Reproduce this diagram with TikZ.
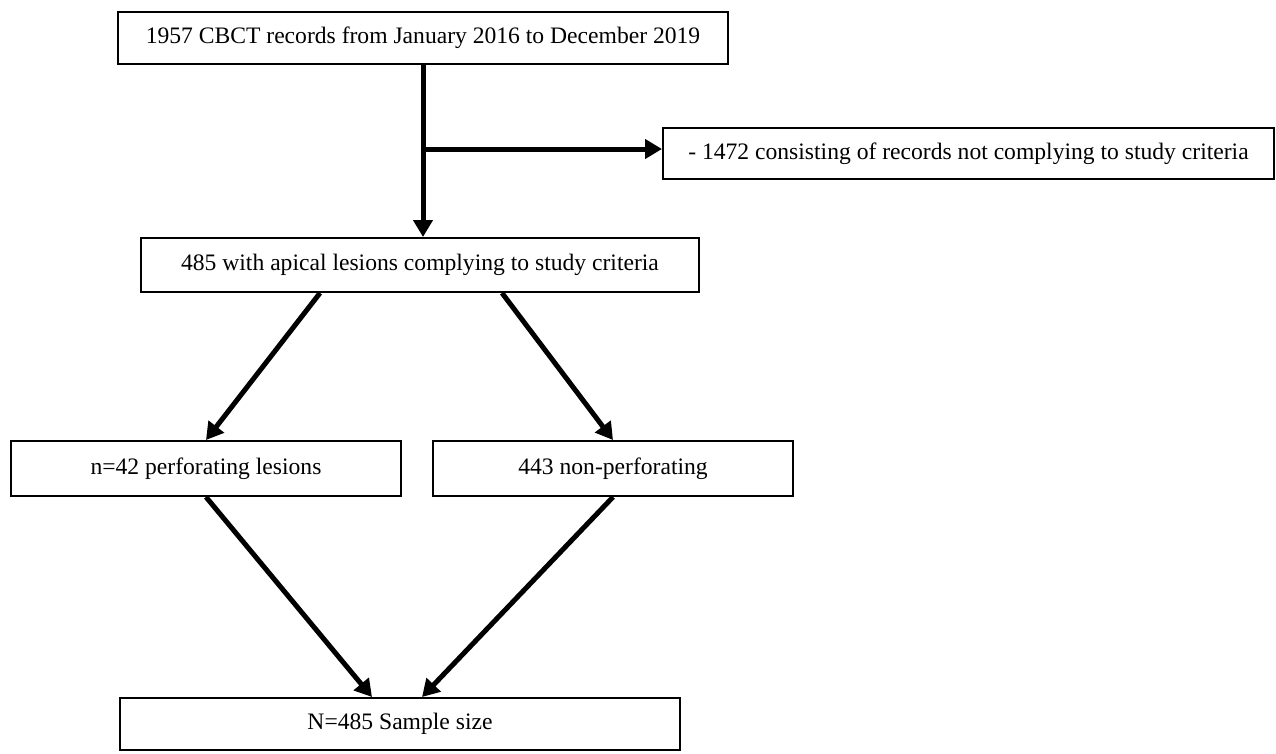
\documentclass[tikz,border=0pt]{standalone}
\usepackage{fontspec}
\setmainfont{Liberation Serif}
\usetikzlibrary{arrows.meta,calc}
\begin{document}
\begin{tikzpicture}[x=1pt,y=-1pt,
  box/.style={draw=black,line width=2pt,fill=white,inner sep=0pt,align=center,
    font=\fontsize{23.6}{28}\selectfont},
  arr/.style={draw=black,line width=5pt,-{Triangle[length=17pt,width=19pt]}}]
\useasboundingbox (0,0) rectangle (1276,753);
\fill[white] (0,0) rectangle (1276,753);
\node[box,minimum width=610pt,minimum height=52pt] (b1) at (423,38) {1957 CBCT records from January 2016 to December 2019};
\node[box,minimum width=611pt,minimum height=51pt] (bR) at (968.5,153.5) {- 1472 consisting of records not complying to study criteria};
\node[box,minimum width=558pt,minimum height=54pt] (b2) at (420,265) {485 with apical lesions complying to study criteria};
\node[box,minimum width=390pt,minimum height=55pt] (b3) at (206,468.5) {n=42 perforating lesions};
\node[box,minimum width=360pt,minimum height=55pt] (b4) at (613,468.5) {443 non-perforating};
\node[box,minimum width=560pt,minimum height=52pt] (b5) at (400,724) {N=485 Sample size};
\coordinate (br) at (423,149);
\coordinate (top) at (b1.south -| br);
\coordinate (bot) at (b2.north -| br);
\draw[arr] (top) -- (bot);
\draw[arr] (br) -- (br -| bR.west);
\draw[arr] ($(b2.south)+(-100,0)$) -- (b3.north);
\draw[arr] ($(b2.south)+(82,0)$) -- (b4.north);
\draw[arr] (b3.south) -- ($(b5.north)+(-28,0)$);
\draw[arr] (b4.south) -- ($(b5.north)+(22,0)$);
\end{tikzpicture}
\end{document}
